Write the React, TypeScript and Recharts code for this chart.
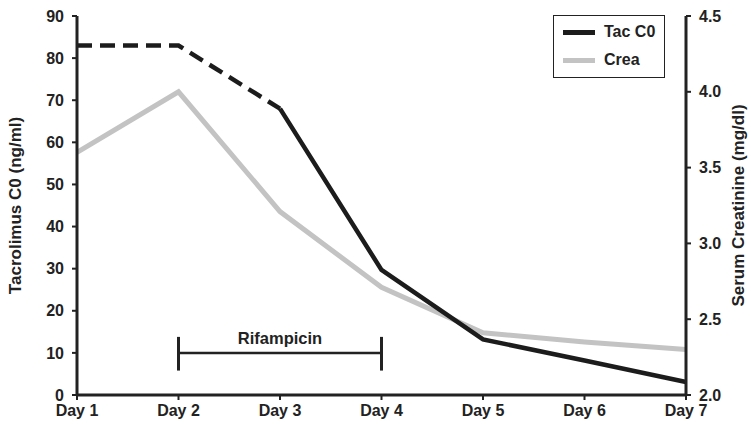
import { LineChart, Line, XAxis, YAxis, ReferenceLine } from 'recharts';

const days = ['Day 1', 'Day 2', 'Day 3', 'Day 4', 'Day 5', 'Day 6', 'Day 7'];
const tacDashed = [83, 83, 68, null, null, null, null];
const tacSolid = [null, null, 68, 29.7, 13.2, 8.2, 3.1];
const crea = [3.6, 4.0, 3.21, 2.71, 2.41, 2.35, 2.3];

const leftTicks = [0, 10, 20, 30, 40, 50, 60, 70, 80, 90];
const rightTicks = [2.0, 2.5, 3.0, 3.5, 4.0, 4.5];

const rifStart = 'Day 2';
const rifEnd = 'Day 4';
const rifLevel = 10;

const data = days.map((d, i) => ({
  day: d,
  tacDashed: tacDashed[i],
  tacSolid: tacSolid[i],
  crea: crea[i],
}));

const FONT = '"Liberation Sans", Arial, sans-serif';
const TAC = '#1c1c1c';
const CREA = '#c3c3c3';
const INK = '#222';
const tick = { fill: INK, fontSize: 16, fontWeight: 700, fontFamily: FONT };
const titleStyle = { textAnchor: 'middle', fill: INK, fontSize: 17, fontWeight: 700, fontFamily: FONT };

function LegendBox() {
  const row = (color: string, label: string) => (
    <div style={{ display: 'flex', alignItems: 'center', height: 28 }}>
      <div style={{ width: 32, height: 5, background: color, marginLeft: 9, marginRight: 9 }} />
      <span style={{ fontSize: 16, fontWeight: 700, fontFamily: FONT, color: INK }}>{label}</span>
    </div>
  );
  return (
    <div
      style={{
        position: 'absolute', left: 553, top: 15, width: 112, height: 63,
        border: '1.5px solid #222', boxSizing: 'border-box', paddingTop: 2, background: '#fff',
      }}
    >
      {row(TAC, 'Tac C0')}
      {row(CREA, 'Crea')}
    </div>
  );
}

export default function App() {
  return (
    <div style={{ position: 'absolute', left: 0, top: 0, width: 751, height: 424, background: '#fff' }}>
      <LineChart width={751} height={424} data={data} margin={{ top: 16, right: 0, bottom: 0, left: 0 }}>
        <XAxis
          dataKey="day"
          tick={tick}
          tickLine={{ stroke: INK, strokeWidth: 2 }}
          axisLine={{ stroke: INK, strokeWidth: 3 }}
          tickSize={5}
          tickMargin={5}
          height={29}
          interval={0}
        />
        <YAxis
          yAxisId="left"
          domain={[0, 90]}
          ticks={leftTicks}
          tick={tick}
          tickLine={{ stroke: INK, strokeWidth: 2 }}
          axisLine={{ stroke: INK, strokeWidth: 3 }}
          tickSize={5}
          tickMargin={8}
          width={77}
          label={{ value: 'Tacrolimus C0 (ng/ml)', angle: -90, position: 'insideLeft', offset: 15, style: titleStyle }}
        />
        <YAxis
          yAxisId="right"
          orientation="right"
          domain={[2, 4.5]}
          ticks={rightTicks}
          tickFormatter={(v: number) => v.toFixed(1)}
          tick={tick}
          tickLine={{ stroke: INK, strokeWidth: 2 }}
          axisLine={{ stroke: INK, strokeWidth: 3 }}
          tickSize={5}
          tickMargin={8}
          width={65}
          label={{ value: 'Serum Creatinine (mg/dl)', angle: -90, position: 'insideRight', offset: 13, style: titleStyle }}
        />
        <Line yAxisId="right" dataKey="crea" stroke={CREA} strokeWidth={5} dot={false} isAnimationActive={false} />
        <Line
          yAxisId="left"
          dataKey="tacDashed"
          stroke={TAC}
          strokeWidth={4.5}
          strokeDasharray="15 8"
          dot={false}
          isAnimationActive={false}
        />
        <Line yAxisId="left" dataKey="tacSolid" stroke={TAC} strokeWidth={4.5} dot={false} isAnimationActive={false} />
        <ReferenceLine
          yAxisId="left"
          segment={[{ x: rifStart, y: rifLevel }, { x: rifEnd, y: rifLevel }]}
          stroke={INK}
          strokeWidth={2.5}
          label={{
            value: 'Rifampicin',
            position: 'top',
            offset: 9,
            style: { fill: INK, fontSize: 16.5, fontWeight: 700, fontFamily: FONT },
          }}
        />
        <ReferenceLine yAxisId="left" segment={[{ x: rifStart, y: 13.8 }, { x: rifStart, y: 5.8 }]} stroke={INK} strokeWidth={3} />
        <ReferenceLine yAxisId="left" segment={[{ x: rifEnd, y: 13.8 }, { x: rifEnd, y: 5.8 }]} stroke={INK} strokeWidth={3} />
      </LineChart>
      <LegendBox />
    </div>
  );
}
